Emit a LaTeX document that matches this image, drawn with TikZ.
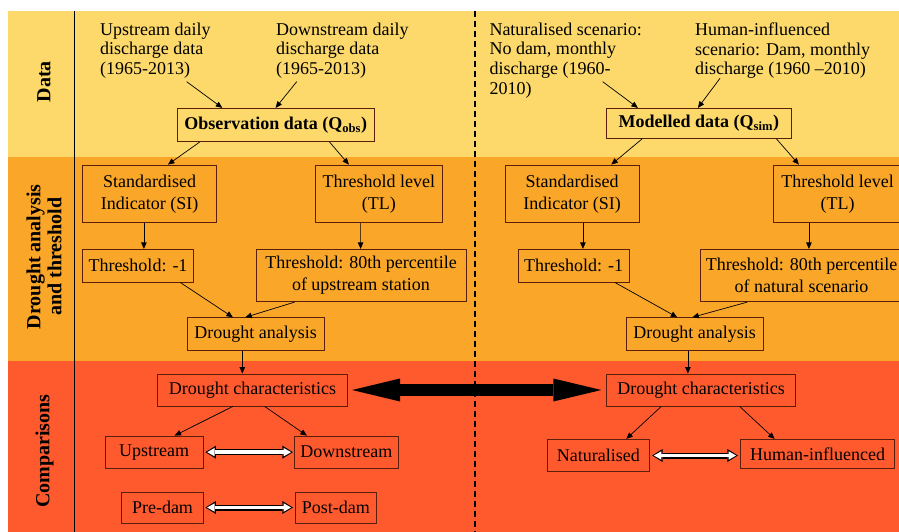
\documentclass[tikz,border=0pt]{standalone}
\usepackage{fontspec}
\setmainfont{Liberation Serif}
\usepackage{tikz}
\usetikzlibrary{arrows.meta}
\usepackage{xcolor}
\definecolor{ColData}{RGB}{252,217,106}
\definecolor{ColDrought}{RGB}{250,166,40}
\definecolor{ColComp}{RGB}{255,90,46}
\definecolor{ColEdge}{RGB}{90,30,10}
\tikzstyle{BoxStep}=[draw=ColEdge,line width=0.8pt,inner sep=2pt,align=center,
font=\fontsize{18}{22}\selectfont]
\tikzstyle{TextData}=[anchor=north west,align=left,inner sep=0pt,
font=\fontsize{18}{19.7}\selectfont]
\tikzstyle{BandLabel}=[rotate=90,align=center,inner sep=0pt,
font=\fontsize{20}{21}\selectfont\bfseries]
\tikzstyle{ArrowThin}=[line width=0.7pt,-{Triangle[length=6.5pt,width=5.5pt]}]
\tikzstyle{ArrowBig}=[line width=11.7pt,
{Triangle[length=48pt,width=23pt,line width=0pt]}-{Triangle[length=48pt,width=23pt,line width=0pt]}]
\tikzstyle{ArrowHollowOut}=[black,line width=6pt,
{Triangle[length=10.5pt,width=13pt,line width=0pt]}-{Triangle[length=10.5pt,width=13pt,line width=0pt]}]
\tikzstyle{ArrowHollowIn}=[white,line width=3.6pt,shorten <=1.8pt,shorten >=1.8pt,
{Triangle[length=7.5pt,width=8.5pt,line width=0pt]}-{Triangle[length=7.5pt,width=8.5pt,line width=0pt]}]

\begin{document}
\begin{tikzpicture}[x=1pt,y=-1pt]
        \useasboundingbox(0,0)rectangle(899,532);
        % bands
        \fill[ColData](8,11)rectangle(899,157);
        \fill[ColDrought](8,157)rectangle(899,361);
        \fill[ColComp](8,361)rectangle(899,532);
        \draw[line width=1.5pt](74.5,11)--(74.5,532);
        \draw[line width=1.2pt,dash pattern=on 6pt off 4pt](475,11)--(475,532);
        \node[BandLabel](lbData)at(44,81.7){Data};
        \node[BandLabel](lbDrought)at(44,256.7){Drought analysis\\and threshold};
        \node[BandLabel](lbComp)at(44.5,451){Comparisons};
        % data
        \node[TextData](upq)at(100,22.5){Upstream daily\\discharge data\\(1965-2013)};
        \node[TextData](dnq)at(276,22.5){Downstream daily\\discharge data\\(1965-2013)};
        \node[TextData](natq)at(489.3,22.5){Naturalised scenario:\\No dam, monthly\\discharge (1960-\\2010)};
        \node[TextData](humq)at(695,22.5){Human-influenced\\scenario: Dam, monthly\\discharge (1960 –2010)};
        \node[BoxStep,minimum width=196.7pt,minimum height=33.4pt](obs)at(275.65,125){\textbf{Observation data (Q\textsubscript{obs})}};
        \node[BoxStep,minimum width=185.7pt,minimum height=30pt](mod)at(698.85,123.3){\textbf{Modelled data (Q\textsubscript{sim})}};
        % drought analysis
        \node[BoxStep,minimum width=134pt,minimum height=57.7pt](siL)at(149.7,193.85){Standardised\\Indicator (SI)};
        \node[BoxStep,minimum width=127.7pt,minimum height=57.7pt](tlL)at(378.85,193.85){Threshold level\\(TL)};
        \node[BoxStep,minimum width=134pt,minimum height=57.7pt](siR)at(572,193.85){Standardised\\Indicator (SI)};
        \node[BoxStep,minimum width=128.6pt,minimum height=57.7pt](tlR)at(837.6,193.85){Threshold level\\(TL)};
        \node[BoxStep,minimum width=110.6pt,minimum height=33pt](thL)at(138,265.8){Threshold: -1};
        \node[BoxStep,minimum width=210pt,minimum height=52.4pt](t8L)at(361,275.5){Threshold: 80th percentile\\of upstream station};
        \node[BoxStep,minimum width=110.7pt,minimum height=33pt](thR)at(573.65,265.8){Threshold: -1};
        \node[BoxStep,minimum width=203pt,minimum height=52.4pt](t8R)at(801.5,275.5){Threshold: 80th percentile\\of natural scenario};
        \node[BoxStep,minimum width=136.7pt,minimum height=33pt](daL)at(255.65,334.2){Drought analysis};
        \node[BoxStep,minimum width=137.3pt,minimum height=33pt](daR)at(694.65,334.2){Drought analysis};
        % comparisons
        \node[BoxStep,minimum width=189.6pt,minimum height=32pt](dcL)at(252.5,390){Drought characteristics};
        \node[BoxStep,minimum width=189pt,minimum height=32pt](dcR)at(701.2,390){Drought characteristics};
        \node[BoxStep,minimum width=98.3pt,minimum height=32.3pt](upB)at(154.15,452.15){Upstream};
        \node[BoxStep,minimum width=104pt,minimum height=32.3pt](dnB)at(346.3,452.15){Downstream};
        \node[BoxStep,minimum width=81.6pt,minimum height=31pt](preB)at(162.5,507.5){Pre-dam};
        \node[BoxStep,minimum width=81.7pt,minimum height=31pt](postB)at(335.85,507.5){Post-dam};
        \node[BoxStep,minimum width=101.3pt,minimum height=32.4pt](naB)at(598.35,455.5){Naturalised};
        \node[BoxStep,minimum width=153.6pt,minimum height=29pt](huB)at(817.5,453.8){Human-influenced};
        % connectors
        \draw[ArrowThin]([xshift=86.7pt,yshift=-59.2pt]upq.north west)--([xshift=45.4pt]obs.north west);
        \draw[ArrowThin]([xshift=20.7pt,yshift=-59.2pt]dnq.north west)--([xshift=98.7pt]obs.north west);
        \draw[ArrowThin]([xshift=113.4pt,yshift=-59.2pt]natq.north west)--([xshift=32.3pt]mod.north west);
        \draw[ArrowThin]([xshift=25pt,yshift=-55.8pt]humq.north west)--([xshift=92.3pt]mod.north west);
        \draw[ArrowThin]([xshift=22.7pt]obs.south west)--([xshift=85.6pt]siL.north west);
        \draw[ArrowThin]([xshift=152.7pt]obs.south west)--([xshift=34.3pt]tlL.north west);
        \draw[ArrowThin]([xshift=36.7pt]mod.south west)--([xshift=106.7pt]siR.north west);
        \draw[ArrowThin]([xshift=170.7pt]mod.south west)--([xshift=26pt]tlR.north west);
        \draw[ArrowThin]([xshift=61.6pt]siL.south west)--([xshift=61.6pt]thL.north west);
        \draw[ArrowThin]([xshift=46pt]tlL.south west)--([xshift=105pt]t8L.north west);
        \draw[ArrowThin]([xshift=78.3pt]siR.south west)--([xshift=65pt]thR.north west);
        \draw[ArrowThin]([xshift=36pt]tlR.south west)--([xshift=109.3pt]t8R.north west);
        \draw[ArrowThin]([xshift=98.3pt]thL.south west)--([xshift=46pt]daL.north west);
        \draw[ArrowThin]([xshift=39pt]t8L.south west)--([xshift=58.4pt]daL.north west);
        \draw[ArrowThin]([xshift=97.4pt]thR.south west)--([xshift=51.7pt]daR.north west);
        \draw[ArrowThin]([xshift=47.7pt]t8R.south west)--([xshift=66.7pt]daR.north west);
        \draw[ArrowThin]([xshift=55.4pt]daL.south west)--([xshift=85pt]dcL.north west);
        \draw[ArrowThin]([xshift=62.3pt]daR.south west)--([xshift=81.6pt]dcR.north west);
        \draw[ArrowThin]([xshift=75.6pt]dcL.south west)--([xshift=70pt]upB.north west);
        \draw[ArrowThin]([xshift=107.3pt]dcL.south west)--([xshift=13pt]dnB.north west);
        \draw[ArrowThin]([xshift=55pt]dcR.south west)--([xshift=79pt]naB.north west);
        \draw[ArrowThin]([xshift=133.3pt]dcR.south west)--([xshift=34.3pt]huB.north west);
        \draw[ArrowBig,shorten <=4.4pt,shorten >=5pt](dcL)--(dcR);
        \draw[ArrowHollowOut,shorten <=1.7pt,shorten >=1pt](upB)--(dnB);
        \draw[ArrowHollowIn,shorten <=3.5pt,shorten >=2.8pt](upB)--(dnB);
        \draw[ArrowHollowOut,shorten <=1.7pt,shorten >=1.7pt](preB)--(postB);
        \draw[ArrowHollowIn,shorten <=3.5pt,shorten >=3.5pt](preB)--(postB);
        \draw[ArrowHollowOut,shorten <=2.7pt,shorten >=2.4pt](naB.east)--(naB.east-|huB.west);
        \draw[ArrowHollowIn,shorten <=4.5pt,shorten >=4.2pt](naB.east)--(naB.east-|huB.west);
    \end{tikzpicture}
\end{document}
